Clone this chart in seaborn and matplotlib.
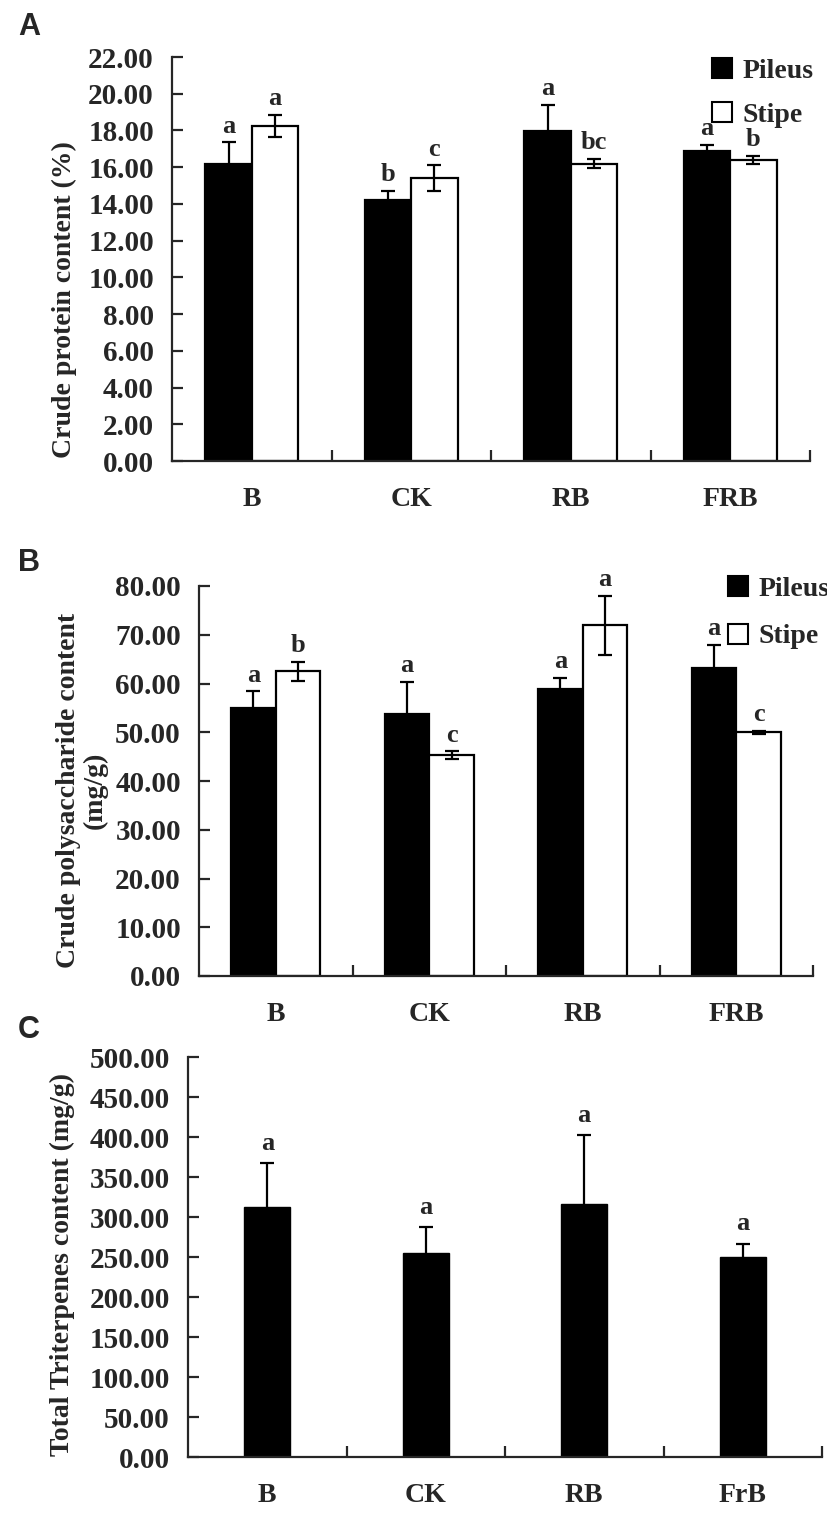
import numpy as np
import pandas as pd
import matplotlib
matplotlib.use("Agg")
import matplotlib.pyplot as plt
from matplotlib.patches import Patch
from matplotlib.ticker import FixedLocator
import seaborn as sns

sns.set_style("ticks")
plt.rcParams['font.family'] = ['Liberation Serif', 'DejaVu Serif']
plt.rcParams['font.weight'] = 'bold'
plt.rcParams['axes.labelweight'] = 'bold'

# ---- data ----
groups = ["B", "CK", "RB", "FRB"]
groups_c = ["B", "CK", "RB", "FrB"]
parts = ["Pileus", "Stipe"]

protein_pileus = [16.2, 14.2, 17.95, 16.9]
protein_pileus_err = [1.15, 0.5, 1.45, 0.3]
protein_stipe = [18.25, 15.4, 16.2, 16.4]
protein_stipe_err = [0.6, 0.7, 0.25, 0.2]
protein_pileus_sig = ["a", "b", "a", "a"]
protein_stipe_sig = ["a", "c", "bc", "b"]

poly_pileus = [54.9, 53.7, 58.8, 63.1]
poly_pileus_err = [3.5, 6.6, 2.3, 4.8]
poly_stipe = [62.5, 45.3, 71.9, 50.0]
poly_stipe_err = [2.0, 0.8, 6.1, 0.3]
poly_pileus_sig = ["a", "a", "a", "a"]
poly_stipe_sig = ["b", "c", "a", "c"]

terp = [312, 255, 316, 250]
terp_err = [55, 32, 86, 16]
terp_sig = ["a", "a", "a", "a"]

W, H = 827, 1520
fig = plt.figure(figsize=(W / 100, H / 100), dpi=100)


def px_axes(left, right, top, bottom):
    return fig.add_axes([left / W, 1 - bottom / H, (right - left) / W, (bottom - top) / H])


def style_axes(ax, ymax, step, labels, label_pad=19):
    ax.set_xlim(-0.5, 3.5)
    ax.set_ylim(0, ymax)
    ax.set_yticks(np.arange(0, ymax + step / 2, step))
    ax.set_yticklabels([f"{v:.2f}" for v in np.arange(0, ymax + step / 2, step)])
    ax.set_xticks(range(4))
    ax.set_xticklabels(labels)
    ax.xaxis.set_minor_locator(FixedLocator([0.5, 1.5, 2.5, 3.5]))
    ax.tick_params(axis='x', which='major', length=0, pad=label_pad, labelsize=20)
    ax.tick_params(axis='x', which='minor', direction='in', length=8, width=1.6)
    ax.tick_params(axis='y', direction='in', length=8, width=1.6, pad=13, labelsize=21)
    for t in ax.get_xticklabels() + ax.get_yticklabels():
        t.set_fontweight('bold')
    sns.despine(ax=ax)
    for s in ["left", "bottom"]:
        ax.spines[s].set_linewidth(1.6)
    ax.set_xlabel("")


def paired_panel(ax, pil, pil_err, sti, sti_err, pil_sig, sti_sig):
    df = pd.DataFrame({
        "group": groups * 2,
        "part": [parts[0]] * 4 + [parts[1]] * 4,
        "value": pil + sti,
    })
    sns.barplot(data=df, x="group", y="value", hue="part", hue_order=parts,
                palette=["black", "white"], edgecolor="black", linewidth=1.6,
                width=0.58, errorbar=None, legend=False, ax=ax)
    errs = pil_err + sti_err
    sigs = pil_sig + sti_sig
    bars = ax.patches[:8]
    xs = [b.get_x() + b.get_width() / 2 for b in bars]
    ys = [b.get_height() for b in bars]
    ax.errorbar(xs, ys, yerr=errs, fmt='none', ecolor='black', elinewidth=1.6,
                capsize=5, capthick=1.6, zorder=5)
    for x, y, e, s in zip(xs, ys, errs, sigs):
        ax.annotate(s, (x, y + e), xytext=(0, 7), textcoords='offset points',
                    ha='center', va='baseline', fontsize=19, fontweight='bold')


def add_legend(x_px, y_px, spacing):
    handles = [Patch(facecolor='black', edgecolor='black', linewidth=1.5),
               Patch(facecolor='white', edgecolor='black', linewidth=1.5)]
    fig.legend(handles, parts, loc='upper left', bbox_to_anchor=(x_px / W, 1 - y_px / H),
               bbox_transform=fig.transFigure, frameon=False, borderpad=0,
               borderaxespad=0, handlelength=0.72, handleheight=0.72,
               handletextpad=0.38, labelspacing=spacing,
               prop={'family': 'Liberation Serif', 'weight': 'bold', 'size': 20})


# ---- A: crude protein ----
axA = px_axes(172, 810, 57, 461)
paired_panel(axA, protein_pileus, protein_pileus_err, protein_stipe, protein_stipe_err,
             protein_pileus_sig, protein_stipe_sig)
style_axes(axA, 22, 2, groups)
axA.set_ylabel("Crude protein content (%)", fontsize=20, fontweight='bold', va='center')
axA.yaxis.set_label_coords((64 - 172) / 638, (461 - 300) / 404)
add_legend(712, 58, 0.68)

# ---- B: crude polysaccharide ----
axB = px_axes(199, 813, 586, 976)
paired_panel(axB, poly_pileus, poly_pileus_err, poly_stipe, poly_stipe_err,
             poly_pileus_sig, poly_stipe_sig)
style_axes(axB, 80, 10, groups)
axB.set_ylabel("Crude polysaccharide content\n(mg/g)", fontsize=20, fontweight='bold',
               va='center', linespacing=1.1)
axB.yaxis.set_label_coords((82 - 199) / 614, (976 - 790) / 390)
add_legend(728, 576, 0.8)

# ---- C: total triterpenes ----
axC = px_axes(188, 822, 1057, 1457)
sns.barplot(x=groups_c, y=terp, color='black', edgecolor='black', width=0.29,
            errorbar=None, ax=axC)
barsC = axC.patches[:4]
xc = [b.get_x() + b.get_width() / 2 for b in barsC]
yc = [b.get_height() for b in barsC]
axC.errorbar(xc, yc, yerr=terp_err, fmt='none', ecolor='black', elinewidth=1.6,
             capsize=5, capthick=1.6, zorder=5)
for x, y, e, s in zip(xc, yc, terp_err, terp_sig):
    axC.annotate(s, (x, y + e), xytext=(0, 10), textcoords='offset points',
                 ha='center', va='baseline', fontsize=19, fontweight='bold')
style_axes(axC, 500, 50, groups_c)
axC.set_ylabel("Total Triterpenes content (mg/g)", fontsize=20, fontweight='bold', va='center')
axC.yaxis.set_label_coords((62 - 188) / 634, (1457 - 1265) / 400)

# panel letters
for lab, (x, y) in zip("ABC", [(29, 27), (29, 563), (29, 1030)]):
    fig.text(x / W, 1 - y / H, lab, ha='center', va='center', fontsize=22,
             fontweight='bold', family=['Liberation Sans', 'DejaVu Sans'])

fig.savefig("out.png", dpi=100)
